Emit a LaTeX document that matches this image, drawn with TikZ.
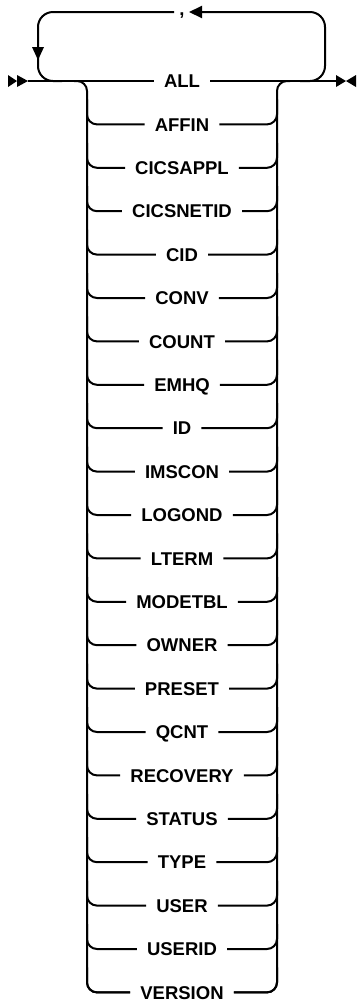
\documentclass[tikz,border=0pt]{standalone}
\usepackage{fontspec}
\setmainfont{Liberation Sans}
\usetikzlibrary{arrows.meta}
\tikzset{
  rr/.style={line width=2pt, line cap=butt},
  kw/.style={font=\fontsize{18.5}{20}\selectfont\bfseries, inner xsep=10pt, inner ysep=0pt, text height=13.2pt, text depth=0pt},
  tipfill/.style={fill=black}
}
\begin{document}
\begin{tikzpicture}[x=1pt,y=-1pt]
\useasboundingbox (0,0) rectangle (358,1005);
% start / end markers
\coordinate (start) at (28,81);
\coordinate (end) at (336,81);
\fill[tipfill] (8,75) -- (17,81) -- (8,87) -- cycle;
\fill[tipfill] (17,75) -- (28,81) -- (17,87) -- cycle;
\fill[tipfill] (336,75) -- (346,81) -- (336,87) -- cycle;
\fill[tipfill] (356,75) -- (346,81) -- (356,87) -- cycle;
% main line
\node[kw] (ALL) at (182,81) {ALL};
\draw[rr] (start) -- (ALL.west);
\draw[rr] (ALL.east) -- (end);
% repeat loop
\coordinate (cL) at (174,12);
\coordinate (cR) at (189,12);
\node[font=\fontsize{18.5}{20}\selectfont\bfseries, inner sep=0pt, text height=0pt, text depth=0pt] (comma) at (182,15) {,};
\coordinate (loopRin) at (300,81);
\coordinate (loopRc) at (325,12);
\coordinate (loopLc) at (38,81);
\coordinate (loopLout) at (62,81);
\draw[rr, rounded corners=15, -{Triangle[length=13pt,width=12pt]}] (loopRin) -| (loopRc) -- (cR);
\draw[rr, rounded corners=15] (cL) -| (loopLc) -- (loopLout);
\fill[tipfill] (32,47) -- (44,47) -- (38,60) -- cycle;
% branches
\coordinate (bL) at (74,81);
\coordinate (bR) at (290,81);
\foreach \t [count=\i from 1] in {AFFIN,CICSAPPL,CICSNETID,CID,CONV,COUNT,EMHQ,ID,IMSCON,LOGOND,LTERM,MODETBL,OWNER,PRESET,QCNT,RECOVERY,STATUS,TYPE,USER,USERID,VERSION}{
  \pgfmathsetmacro\yy{81+\i*43.4}
  \node[kw] (r\i) at (182,\yy) {\t};
  \draw[rr, rounded corners=10] (87,\yy-25) |- (r\i.west);
  \draw[rr, rounded corners=10] (r\i.east) -| (277,\yy-25);
}
\coordinate (vL) at (87,81);
\coordinate (vR) at (277,81);
\draw[rr, rounded corners=10] (bL) -| (r21.west -| vL) -- (r21.west);
\draw[rr, rounded corners=10] (r21.east) -| (vR) -- (bR);
\end{tikzpicture}
\end{document}
